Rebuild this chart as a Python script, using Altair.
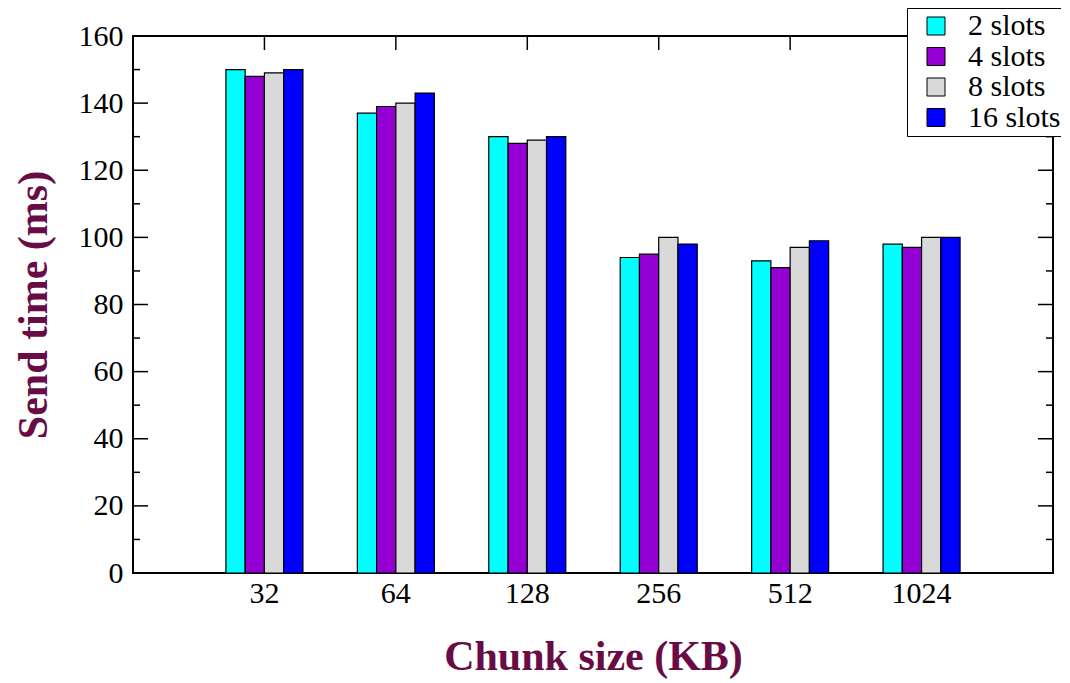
import altair as alt
import pandas as pd

categories = ["32", "64", "128", "256", "512", "1024"]
slots = ["2 slots", "4 slots", "8 slots", "16 slots"]
slot_colors = ["#00ffff", "#9400d3", "#d9d9d9", "#0000ff"]
s2 = [150, 137, 130, 94, 93, 98]
s4 = [148, 139, 128, 95, 91, 97]
s8 = [149, 140, 129, 100, 97, 100]
s16 = [150, 143, 130, 98, 99, 100]
y_major = [0, 20, 40, 60, 80, 100, 120, 140, 160]
y_minor = [10, 30, 50, 70, 90, 110, 130, 150]

rows = []
for slot, vals in zip(slots, [s2, s4, s8, s16]):
    for c, v in zip(categories, vals):
        rows.append({"chunk": c, "slot": slot, "time": v})
df = pd.DataFrame(rows)

W, H = 920, 537
FONT = "Liberation Serif"
TITLE_COLOR = "#690c45"

PI = 0.414
xscale = alt.Scale(domain=categories, paddingInner=PI, paddingOuter=(1 + PI) / 2)
yscale = alt.Scale(domain=[0, 160], nice=False)

x_axis = alt.Axis(
    title="Chunk size (KB)",
    labelAngle=0,
    ticks=False,
    tickSize=0,
    domain=False,
    grid=False,
    labelFontSize=30,
    labelPadding=5,
    titleFontSize=42,
    titleFontWeight="bold",
    titleColor=TITLE_COLOR,
    titleBaseline="alphabetic",
    titleY=96,
)
y_axis = alt.Axis(
    title="Send time (ms)",
    values=y_major,
    ticks=False,
    tickSize=0,
    domain=False,
    grid=False,
    labelFontSize=30,
    labelPadding=10,
    titleFontSize=42,
    titleFontWeight="bold",
    titleColor=TITLE_COLOR,
    titleBaseline="alphabetic",
    titleAngle=270,
    titleX=-87,
    titleY=H / 2,
)

bars = alt.Chart(df).mark_bar(stroke="black", strokeWidth=1.2).encode(
    x=alt.X("chunk:N", scale=xscale, sort=categories, axis=x_axis),
    xOffset=alt.XOffset(
        "slot:N", sort=slots,
        scale=alt.Scale(domain=slots, paddingInner=0, paddingOuter=0),
    ),
    y=alt.Y("time:Q", scale=yscale, axis=y_axis),
    color=alt.Color(
        "slot:N",
        sort=slots,
        scale=alt.Scale(domain=slots, range=slot_colors),
        legend=alt.Legend(
            title=None,
            orient="none",
            legendX=774,
            legendY=-28,
            padding=3,
            rowPadding=0.5,
            fillColor="white",
            strokeColor="black",
            symbolType="square",
            symbolSize=324,
            symbolStrokeColor="black",
            symbolStrokeWidth=1,
            symbolOpacity=1,
            symbolOffset=11,
            labelOffset=17,
            labelFontSize=30,
            labelFont=FONT,
            labelColor="black",
        ),
    ),
)

major_df = pd.DataFrame({"time": y_major})
minor_df = pd.DataFrame({"time": y_minor})
cat_df = pd.DataFrame({"chunk": categories})


def yticks(data, x1, x2):
    return alt.Chart(data).mark_rule(color="black", strokeWidth=1.5).encode(
        y=alt.Y("time:Q", scale=yscale, axis=y_axis),
        x=alt.value(x1),
        x2=alt.value(x2),
    )


left_major = yticks(major_df, 0, 15)
left_minor = yticks(minor_df, 0, 7)
right_major = yticks(major_df, W, W - 15)
right_minor = yticks(minor_df, W, W - 7)

top_ticks = alt.Chart(cat_df).mark_rule(color="black", strokeWidth=1.5).encode(
    x=alt.X("chunk:N", scale=xscale, sort=categories, axis=x_axis),
    y=alt.value(0),
    y2=alt.value(14),
)

chart = alt.layer(
    bars, left_major, left_minor, right_major, right_minor, top_ticks
).properties(
    width=W,
    height=H,
    autosize=alt.AutoSizeParams(type="none"),
    padding={"left": 125, "top": 28, "right": 8, "bottom": 108},
    background="white",
).configure_view(
    stroke="black", strokeWidth=2
).configure_axis(
    grid=False,
    labelFont=FONT,
    titleFont=FONT,
    labelColor="black",
)

chart.save("out.html", embed_options={"renderer": "svg", "actions": False})
